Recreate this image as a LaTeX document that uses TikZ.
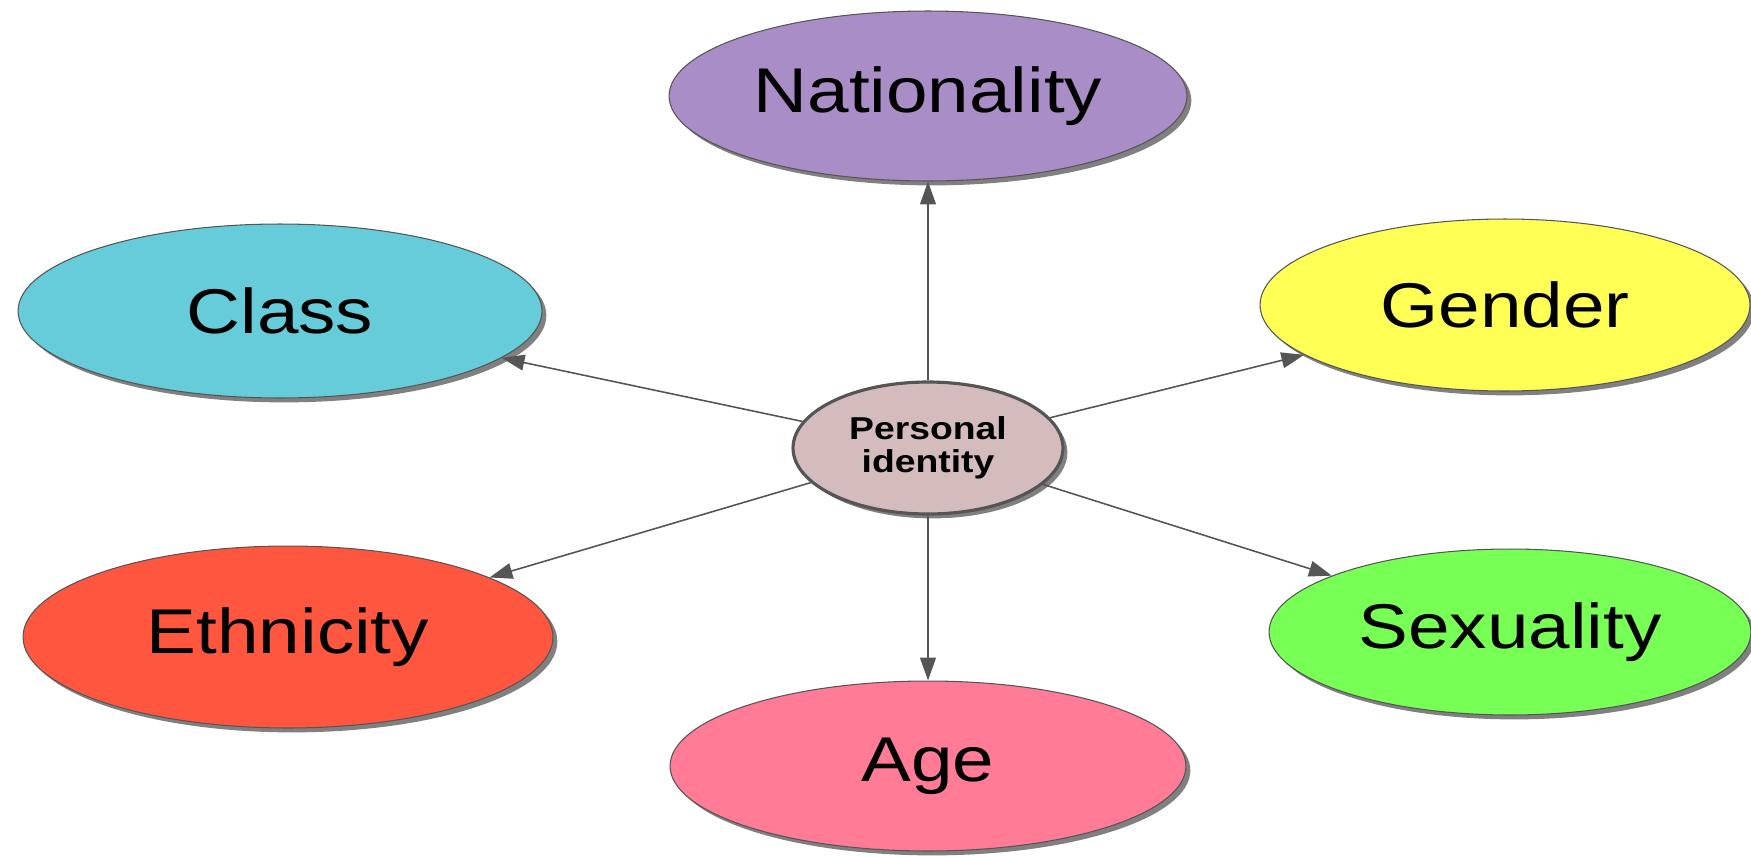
\documentclass[tikz,border=0pt]{standalone}
\usepackage{fontspec}
\setmainfont{Liberation Sans}[FakeStretch=1.18]
\usetikzlibrary{shapes.geometric,shadows,arrows.meta}

\definecolor{natcol}{RGB}{169,141,198}
\definecolor{clscol}{RGB}{102,204,217}
\definecolor{gencol}{RGB}{255,255,85}
\definecolor{ethcol}{RGB}{255,86,64}
\definecolor{sexcol}{RGB}{119,255,85}
\definecolor{agecol}{RGB}{255,123,150}
\definecolor{idcol}{RGB}{213,188,188}
\definecolor{edgecol}{RGB}{85,85,85}

\tikzset{
	bubble/.style={ellipse, draw=edgecol, line width=0.6pt, inner sep=0pt,
		drop shadow={shadow xshift=2.5pt, shadow yshift=-2.5pt, fill=black!50, opacity=1},
		font=\fontsize{36}{40}\selectfont},
	link/.style={draw=edgecol, line width=0.9pt, -{Triangle[length=13pt,width=9pt]}}
}

\begin{document}
\begin{tikzpicture}[x=0.02cm, y=-0.02cm]

		\useasboundingbox (0, 0) rectangle (1751, 856);

		\node[bubble, fill=idcol, line width=1.8pt, minimum width=5.4cm, minimum height=2.64cm,
			align=center, font=\bfseries\fontsize{18}{19}\selectfont] (center) at (928, 448) {Personal\\identity};

		\node[bubble, fill=natcol, minimum width=10.36cm, minimum height=3.4cm] (ID1) at (928, 96) {Nationality};
		\node[bubble, fill=clscol, minimum width=10.48cm, minimum height=3.48cm] (ID2) at (280, 311) {Class};
		\node[bubble, fill=gencol, minimum width=9.8cm, minimum height=3.44cm] (ID3) at (1505, 305) {Gender};
		\node[bubble, fill=ethcol, minimum width=10.6cm, minimum height=3.64cm] (ID4) at (288, 637) {Ethnicity};
		\node[bubble, fill=sexcol, minimum width=9.64cm, minimum height=3.32cm] (ID5) at (1510, 632) {Sexuality};
		\node[bubble, fill=agecol, minimum width=10.32cm, minimum height=3.4cm] (ID6) at (928, 766) {Age};

		\draw[link] (center) -- (ID1);
		\draw[link] (center) -- (ID2);
		\draw[link] (center) -- (ID3);
		\draw[link] (center) -- (ID4);
		\draw[link] (center) -- (ID5);
		\draw[link] (center) -- (ID6);

	\end{tikzpicture}
\end{document}
